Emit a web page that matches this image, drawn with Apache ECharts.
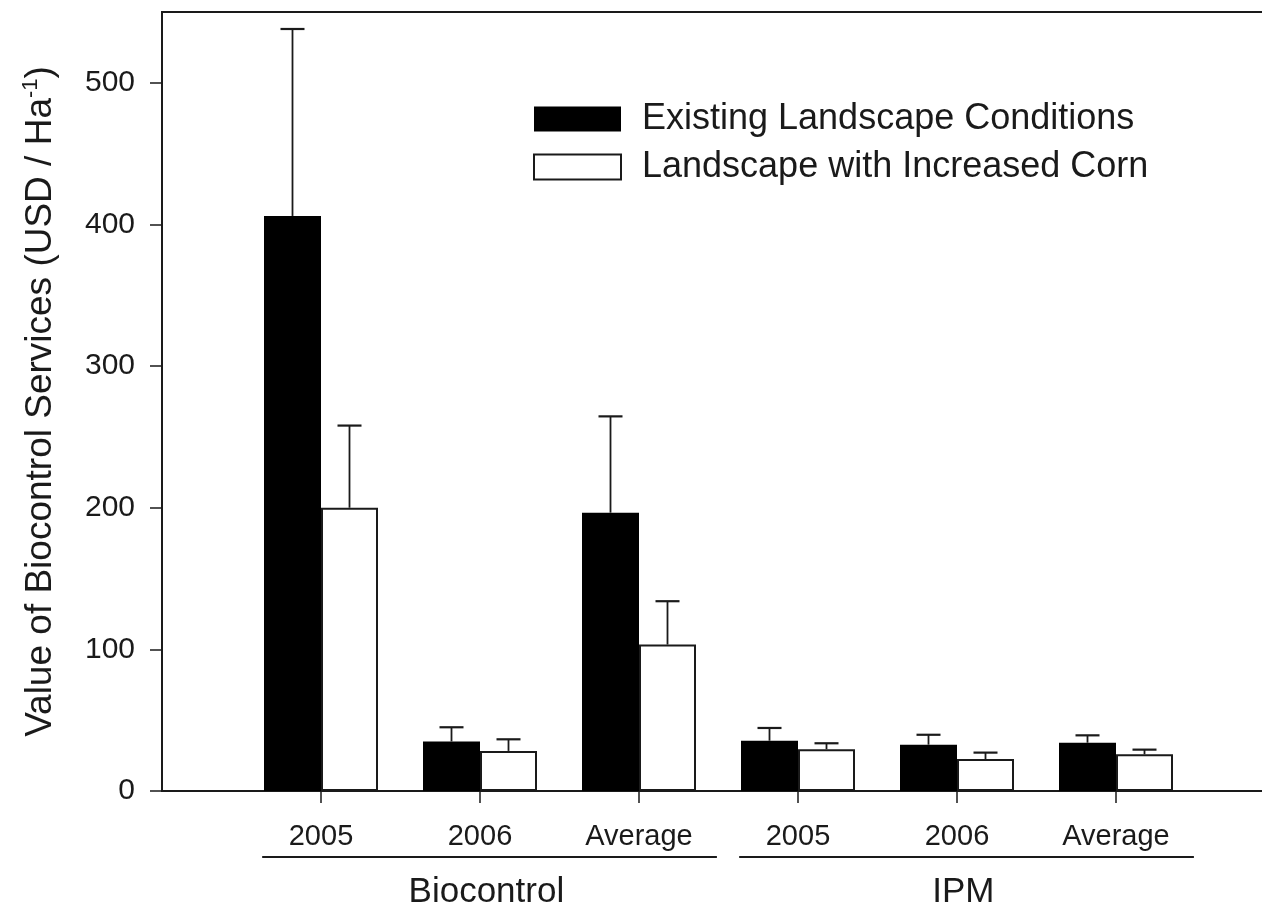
<!DOCTYPE html>
<html>
<head>
<meta charset="utf-8">
<script src="https://cdn.jsdelivr.net/npm/echarts@6/dist/echarts.min.js"></script>
<style>
html,body{margin:0;padding:0;background:#fff;}
#c{width:1262px;height:906px;}
</style>
</head>
<body>
<div id="c"></div>
<script>
// ---- data ----
const categories = ['2005', '2006', 'Average', '2005', '2006', 'Average'];
const groups = ['Biocontrol', 'IPM'];
const groupSpans = [[1, 3], [4, 6]];           // category positions covered by each group
const seriesNames = ['Existing Landscape Conditions', 'Landscape with Increased Corn'];
const existing   = [406, 35.0, 196.5, 35.5, 32.7, 34.1];
const existingSE = [132, 10.0, 68.0, 9.0, 7.0, 5.2];
const corn       = [200, 28.3, 103.4, 29.5, 22.6, 25.9];
const cornSE     = [58, 8.2, 30.6, 4.2, 4.5, 3.3];
const yTicks = [0, 100, 200, 300, 400, 500];

// ---- styling ----
const FONT = '"Liberation Sans", Arial, Helvetica, sans-serif';
const INK = '#1a1a1a';
const BAR_W = 57;

const pos = categories.map((c, i) => i + 1);
const barData = vals => vals.map((v, i) => [pos[i], v]);
const errData = (vals, se) => vals.map((v, i) => [pos[i], v, v + se[i]]);

function errRender(shift) {
  return function (params, api) {
    const base = api.coord([api.value(0), api.value(1)]);
    const top = api.coord([api.value(0), api.value(2)]);
    const x = base[0] + shift;
    return {
      type: 'group',
      children: [
        { type: 'line', shape: { x1: x, y1: base[1], x2: x, y2: top[1] }, style: { stroke: INK, lineWidth: 1.8 } },
        { type: 'line', shape: { x1: x - 12, y1: top[1], x2: x + 12, y2: top[1] }, style: { stroke: INK, lineWidth: 2.2 } }
      ]
    };
  };
}

const chart = echarts.init(document.getElementById('c'), null, { renderer: 'canvas' });

const option = {
  animation: false,
  backgroundColor: '#fff',
  grid: {
    left: 162, top: 12, width: 1113, height: 779,
    containLabel: false, outerBoundsMode: 'none',
    show: true, borderColor: INK, borderWidth: 2, backgroundColor: 'transparent'
  },
  legend: {
    orient: 'vertical',
    left: 528, top: 96,
    itemWidth: 87, itemHeight: 25, itemGap: 12,
    icon: 'rect',
    data: seriesNames,
    textStyle: { fontFamily: FONT, fontSize: 36, color: INK, lineHeight: 25, padding: [0, 0, 0, 16] }
  },
  xAxis: [
    {
      type: 'value', min: 0, max: 7,
      axisLine: { show: true, onZero: false, lineStyle: { color: INK, width: 2 } },
      axisTick: { show: true, length: 12, inside: false, customValues: pos, lineStyle: { color: INK, width: 1.5 } },
      axisLabel: {
        customValues: pos, margin: 31, fontFamily: FONT, fontSize: 29, color: INK,
        formatter: v => categories[Math.round(v) - 1] || ''
      },
      splitLine: { show: false }
    },
    {
      type: 'value', min: 0, max: 7, position: 'bottom', gridIndex: 0,
      axisLine: { show: false }, axisTick: { show: false }, splitLine: { show: false },
      axisLabel: {
        customValues: groupSpans.map(s => (s[0] + s[1]) / 2 + 0.04),
        margin: 84, fontFamily: FONT, fontSize: 35, color: INK,
        formatter: v => {
          const i = groupSpans.findIndex(s => Math.abs((s[0] + s[1]) / 2 + 0.04 - v) < 1e-6);
          return i >= 0 ? groups[i] : '';
        }
      }
    }
  ],
  yAxis: {
    type: 'value', min: 0, max: 550,
    axisLine: { show: true, lineStyle: { color: INK, width: 2 } },
    axisTick: { show: true, length: 12, inside: false, customValues: yTicks, lineStyle: { color: INK, width: 1.5 } },
    axisLabel: { customValues: yTicks, margin: 27, fontFamily: FONT, fontSize: 30, color: INK },
    splitLine: { show: false },
    name: '{a|Value of Biocontrol Services (USD / Ha}{s|-1}{a|)}',
    nameLocation: 'middle',
    nameGap: 100,
    nameTextStyle: {
      fontFamily: FONT, color: INK,
      rich: {
        a: { fontFamily: FONT, fontSize: 37, color: INK, lineHeight: 42 },
        s: { fontFamily: FONT, fontSize: 22, color: INK, verticalAlign: 'top', lineHeight: 22 }
      }
    }
  },
  series: [
    {
      name: seriesNames[0], type: 'bar', xAxisIndex: 0,
      data: barData(existing), barWidth: BAR_W, barGap: '0%',
      itemStyle: { color: '#000', borderColor: '#000', borderWidth: 0 }
    },
    {
      name: seriesNames[1], type: 'bar', xAxisIndex: 0,
      data: barData(corn), barWidth: BAR_W, barGap: '0%',
      itemStyle: { color: '#fff', borderColor: INK, borderWidth: 2 }
    },
    {
      type: 'custom', xAxisIndex: 0, z: 5,
      data: errData(existing, existingSE),
      encode: { x: 0, y: [1, 2] },
      renderItem: errRender(-BAR_W / 2)
    },
    {
      type: 'custom', xAxisIndex: 0, z: 5,
      data: errData(corn, cornSE),
      encode: { x: 0, y: [1, 2] },
      renderItem: errRender(BAR_W / 2)
    },
    {
      type: 'custom', xAxisIndex: 0, clip: false, silent: true,
      data: groupSpans.map(s => [s[0], s[1]]),
      encode: { x: [0, 1] },
      renderItem: function (params, api) {
        const a = api.coord([api.value(0) - 0.37, 0]);
        const b = api.coord([api.value(1) + 0.49, 0]);
        const y = a[1] + 66;
        return { type: 'line', shape: { x1: a[0], y1: y, x2: b[0], y2: y }, style: { stroke: INK, lineWidth: 1.8 } };
      }
    }
  ]
};

chart.setOption(option);
</script>
</body>
</html>
